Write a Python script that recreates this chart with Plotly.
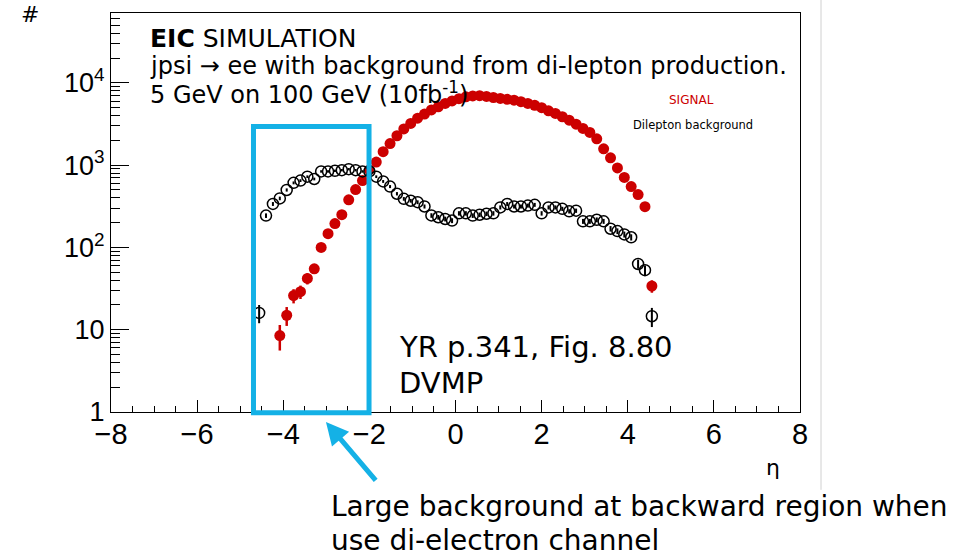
import numpy as np
import plotly.graph_objects as go

# ---------------- data ----------------
eta_signal = [-4.08, -3.92, -3.76, -3.60, -3.44, -3.28, -3.12, -2.96, -2.80, -2.64,
              -2.48, -2.32, -2.16, -2.00, -1.84, -1.68, -1.52, -1.36, -1.20, -1.04,
              -0.88, -0.72, -0.56, -0.40, -0.24, -0.08, 0.08, 0.24, 0.40, 0.56,
              0.72, 0.88, 1.04, 1.20, 1.36, 1.52, 1.68, 1.84, 2.00, 2.16,
              2.32, 2.48, 2.64, 2.80, 2.96, 3.12, 3.28, 3.44, 3.60, 3.76,
              3.92, 4.08, 4.24, 4.40, 4.56]
signal_counts = [8.5, 15, 26, 29, 42, 55, 100, 147, 195, 250,
                 380, 505, 650, 875, 1090, 1460, 1830, 2280, 2760, 3220,
                 3730, 4180, 4690, 5120, 5630, 6040, 6440, 6780, 6960, 7000,
                 6850, 6650, 6480, 6320, 6170, 5920, 5630, 5350, 5000, 4580,
                 4260, 3880, 3530, 3150, 2800, 2500, 2090, 1580, 1230, 926,
                 710, 550, 440, 313, 34]

eta_background = [-4.56, -4.40, -4.24, -4.08, -3.92, -3.76, -3.60, -3.44, -3.28, -3.12,
                  -2.96, -2.80, -2.64, -2.48, -2.32, -2.16, -2.00, -1.84, -1.68, -1.52,
                  -1.36, -1.20, -1.04, -0.88, -0.72, -0.56, -0.40, -0.24, -0.08, 0.08,
                  0.24, 0.40, 0.56, 0.72, 0.88, 1.04, 1.20, 1.36, 1.52, 1.68,
                  1.84, 2.00, 2.16, 2.32, 2.48, 2.64, 2.80, 2.96, 3.12, 3.28,
                  3.44, 3.60, 3.76, 3.92, 4.08, 4.24, 4.40, 4.56]
background_counts = [16, 244, 338, 395, 500, 610, 650, 725, 680, 840,
                     840, 855, 870, 895, 870, 840, 840, 725, 635, 550,
                     450, 390, 370, 355, 315, 245, 233, 222, 212, 260,
                     260, 244, 250, 257, 260, 307, 338, 315, 315, 323,
                     330, 260, 307, 307, 295, 275, 280, 208, 208, 217,
                     208, 169, 158, 144, 133, 63, 53, 14.6]

y_tick_vals = [1, 10, 100, 1000, 10000]
y_tick_text = ["1", "10", "10<sup>2</sup>", "10<sup>3</sup>", "10<sup>4</sup>"]

# Poisson uncertainties
signal_err = np.sqrt(np.array(signal_counts, dtype=float))
background_err = np.sqrt(np.array(background_counts, dtype=float))

RED = "#cc0000"
CYAN = "#14b1e6"
FONT = "DejaVu Sans"
X_RANGE = [-8, 8]
Y_RANGE = [0, 4.85]

fig = go.Figure()
fig.add_trace(go.Scatter(
    x=eta_signal, y=signal_counts, mode="markers", name="SIGNAL",
    marker=dict(symbol="circle", size=11, color=RED, line=dict(width=0)),
    error_y=dict(type="data", array=signal_err, color=RED, thickness=2.5, width=0),
    showlegend=False))
fig.add_trace(go.Scatter(
    x=eta_background, y=background_counts, mode="markers", name="Dilepton background",
    marker=dict(symbol="circle-open", size=11, color="black", line=dict(width=1.5, color="black")),
    error_y=dict(type="data", array=background_err, color="black", thickness=2, width=0),
    showlegend=False))

fig.update_layout(
    width=976, height=558,
    margin=dict(l=111, r=176, t=13, b=146),
    paper_bgcolor="white", plot_bgcolor="white",
    showlegend=False,
    font=dict(family=FONT, color="black"),
)

x_minor = dict(ticks="inside", ticklen=6, tickwidth=1, tickcolor="black",
               tick0=-8, dtick=0.5, showgrid=False)
y_minor = dict(ticks="inside", ticklen=9, tickwidth=1, tickcolor="black",
               dtick="D1", showgrid=False)

fig.update_layout(
    xaxis=dict(
        range=X_RANGE, tickmode="linear", tick0=-8, dtick=2,
        ticks="inside", ticklen=12, tickwidth=1.2, tickcolor="black",
        showline=True, linecolor="black", linewidth=1.2, mirror=True,
        showgrid=False, zeroline=False, ticklabelstandoff=-4,
        tickfont=dict(family="Liberation Sans", size=29, color="black"),
        minor=x_minor,
    ),
    xaxis2=dict(
        range=X_RANGE, overlaying="x", side="top", anchor="y",
        tickmode="linear", tick0=-8, dtick=2,
        ticks="inside", ticklen=12, tickwidth=1.2, tickcolor="black",
        showticklabels=False, showline=False, showgrid=False, zeroline=False,
        minor=x_minor,
    ),
    yaxis=dict(
        type="log", range=Y_RANGE, tickmode="array", tickvals=y_tick_vals, ticktext=y_tick_text,
        ticks="inside", ticklen=18, tickwidth=1.2, tickcolor="black",
        showline=True, linecolor="black", linewidth=1.2, mirror=True,
        showgrid=False, zeroline=False,
        tickfont=dict(family="Liberation Sans", size=27, color="black"),
        minor=y_minor,
    ),
    yaxis2=dict(
        type="log", range=Y_RANGE, overlaying="y", side="right", anchor="x",
        tickmode="array", tickvals=y_tick_vals,
        ticks="inside", ticklen=18, tickwidth=1.2, tickcolor="black",
        showticklabels=False, showline=False, showgrid=False, zeroline=False,
        minor=y_minor,
    ),
)

annotations = [
    dict(text="<b>EIC</b> SIMULATION", x=0.0537, y=0.935, xanchor="left", yanchor="middle",
         font=dict(size=25, family=FONT)),
    dict(text="jpsi \u2192 ee with background from di-lepton production.", x=0.0537, y=0.867,
         xanchor="left", yanchor="middle", font=dict(size=24, family=FONT)),
    dict(text="5 GeV on 100 GeV (10fb<sup>-1</sup>)", x=0.0537, y=0.7995,
         xanchor="left", yanchor="middle", font=dict(size=24, family=FONT)),
    dict(text="SIGNAL", x=0.843, y=0.782, xanchor="center", yanchor="middle",
         font=dict(size=12, family=FONT, color=RED)),
    dict(text="Dilepton background", x=0.844, y=0.719, xanchor="center", yanchor="middle",
         font=dict(size=11.5, family=FONT)),
    dict(text="YR p.341, Fig. 8.80", x=0.4145, y=0.163, xanchor="left", yanchor="middle",
         font=dict(size=29, family=FONT)),
    dict(text="DVMP", x=0.4145, y=0.0727, xanchor="left", yanchor="middle",
         font=dict(size=29, family=FONT)),
    dict(text="Large background at backward region when", x=0.3164, y=-0.238,
         xanchor="left", yanchor="middle", font=dict(size=28, family=FONT)),
    dict(text="use di-electron channel", x=0.3164, y=-0.323,
         xanchor="left", yanchor="middle", font=dict(size=28, family=FONT)),
    dict(text="\u03b7", x=0.961, y=-0.138, xanchor="center", yanchor="middle",
         font=dict(size=22, family=FONT)),
    dict(text="#", x=-0.1175, y=0.997, xanchor="center", yanchor="middle",
         font=dict(size=22, family=FONT)),
    dict(text="", x=0.312, y=-0.025, ax=51, ay=60,
         showarrow=True, arrowhead=2, arrowsize=0.9, arrowwidth=5, arrowcolor=CYAN),
]
for a in annotations:
    a.setdefault("xref", "paper")
    a.setdefault("yref", "paper")
    a.setdefault("showarrow", False)
fig.update_layout(annotations=annotations)

fig.update_layout(shapes=[
    dict(type="rect", xref="paper", yref="paper", x0=0.2068, x1=0.3745, y0=-0.002, y1=0.7155,
         line=dict(color=CYAN, width=5), fillcolor="rgba(0,0,0,0)", layer="above"),
    dict(type="line", xref="paper", yref="paper", x0=1.0305, x1=1.0305, y0=-0.195, y1=1.04,
         line=dict(color="#d0d0d0", width=1), layer="above"),
])

fig.write_html("out.html")
